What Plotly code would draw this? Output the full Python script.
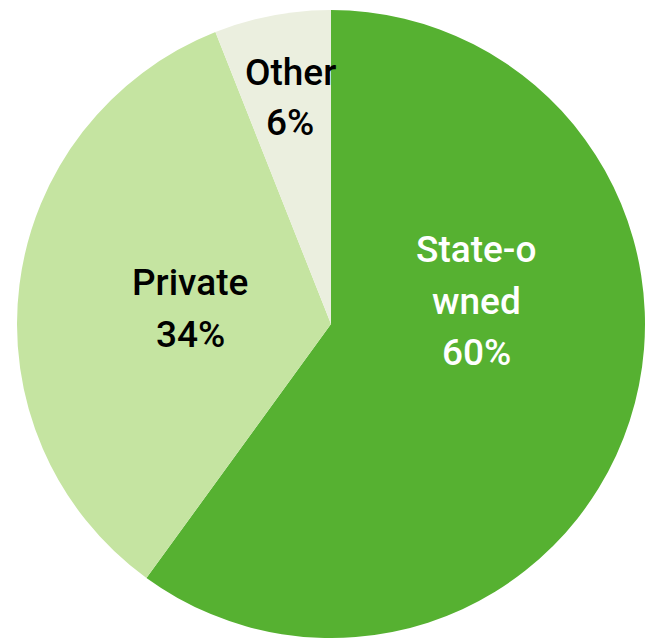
import plotly.graph_objects as go

labels = ["State-owned", "Private", "Other"]
label_lines = [["State-o", "wned"], ["Private"], ["Other"]]
values = [60, 34, 6]
colors = ["#56B131", "#C5E4A1", "#EBEFDF"]
text_colors = ["white", "black", "black"]

W, H = 645, 638

fig = go.Figure(go.Pie(
    labels=labels,
    values=values,
    sort=False,
    direction="clockwise",
    rotation=0,
    marker=dict(colors=colors, line=dict(width=0)),
    textinfo="none",
    hoverinfo="label+percent",
    domain=dict(x=[17 / W, 1.0], y=[0.0, 1 - 10 / H]),
    showlegend=False,
))

# label block: centre x and first line y (pixels from top), line step
pos = [(476, 250), (190, 283), (290, 72)]
step = 51
total = sum(values)
for lines, v, c, (px, py) in zip(label_lines, values, text_colors, pos):
    all_lines = lines + [f"{round(100 * v / total)}%"]
    for i, t in enumerate(all_lines):
        fig.add_annotation(
            x=px / W, y=1 - (py + i * step) / H, xref="paper", yref="paper",
            text=t, showarrow=False, xanchor="center", yanchor="middle",
            font=dict(family="Roboto", size=37, color=c, weight=500),
        )

fig.update_layout(
    width=W, height=H,
    margin=dict(l=0, r=0, t=0, b=0),
    paper_bgcolor="white", plot_bgcolor="white",
)

fig.write_html("out.html")
